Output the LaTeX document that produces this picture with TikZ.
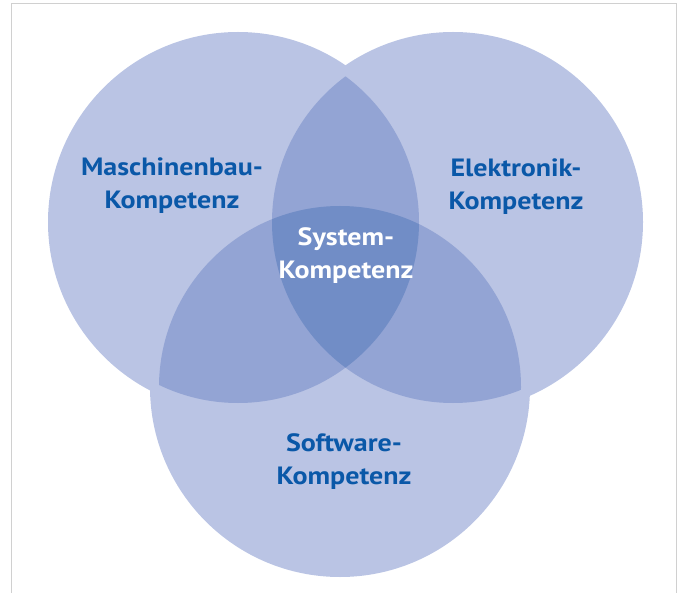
\documentclass[tikz,border=0pt]{standalone}
\usepackage{fontspec}
\setmainfont{PT Sans}[FakeStretch=1.12]
\definecolor{cone}{RGB}{186,196,228}
\definecolor{ctwo}{RGB}{147,164,212}
\definecolor{cthree}{RGB}{113,141,198}
\definecolor{tblue}{RGB}{10,88,168}
\definecolor{framegray}{RGB}{208,208,208}
\tikzset{
  lbl/.style={font=\fontsize{25}{33}\selectfont\bfseries, text=tblue, align=center, inner sep=0pt},
  lblw/.style={lbl, text=white},
}
\begin{document}
\begin{tikzpicture}[x=1pt,y=-1pt]
\useasboundingbox (0,0) rectangle (682,593);
\def\R{190}
\def\r{181}
\coordinate (A) at (238,222);
\coordinate (B) at (453,222);
\coordinate (C) at (340,387);
% frame
\draw[framegray, line width=1.2pt] (11.5,593) -- (11.5,3.5) -- (676.5,3.5) -- (676.5,593);
% single
\fill[cone] (A) circle (\R);
\fill[cone] (B) circle (\R);
\fill[cone] (C) circle (\R);
% pairs
\begin{scope}\clip (A) circle (\r); \fill[ctwo] (B) circle (\r); \end{scope}
\begin{scope}\clip (A) circle (\r); \fill[ctwo] (C) circle (\r); \end{scope}
\begin{scope}\clip (B) circle (\r); \fill[ctwo] (C) circle (\r); \end{scope}
% triple
\begin{scope}\clip (A) circle (\r); \clip (B) circle (\r); \fill[cthree] (C) circle (\r); \end{scope}
% labels
\node[lbl] (mb) at (172,186) {Maschinenbau-\\Kompetenz};
\node[lbl] (el) at (516,187) {Elektronik-\\Kompetenz};
\node[lblw] (sy) at (346,256) {System-\\Kompetenz};
\node[lbl] (sw) at (344,462) {Software-\\Kompetenz};
\end{tikzpicture}
\end{document}
